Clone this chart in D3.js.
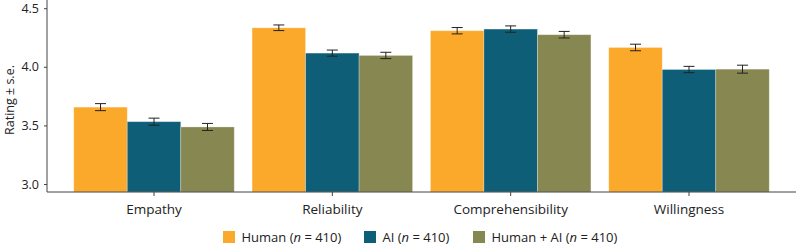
<!DOCTYPE html>
<html>
<head>
<meta charset="utf-8">
<script src="https://cdn.jsdelivr.net/npm/d3@7"></script>
<style>
  body { margin: 0; background: #fff; }
  svg text { font-family: "Open Sans", sans-serif; fill: #222; }
</style>
</head>
<body>
<script>
const categories = ["Empathy", "Reliability", "Comprehensibility", "Willingness"];
const groups = ["Human", "AI", "Human + AI"];
const humanMean = [3.656, 4.333, 4.308, 4.165];
const aiMean = [3.532, 4.117, 4.322, 3.977];
const bothMean = [3.487, 4.097, 4.274, 3.980];
const humanSe = [0.030, 0.024, 0.027, 0.028];
const aiSe = [0.030, 0.026, 0.027, 0.027];
const bothSe = [0.030, 0.027, 0.028, 0.034];
const yTicks = [3.0, 3.5, 4.0, 4.5];
const nLabel = "410";

function init() {
    var w = 796, h = 246;
    var left = 47, right = 796, top = 0, bottom = 192;
    var colors = ["#fba92b", "#0e5e78", "#878751"];
    var means = [humanMean, aiMean, bothMean];
    var ses = [humanSe, aiSe, bothSe];

    var svg = d3.select("body").append("svg")
        .attr("width", w)
        .attr("height", h);

    var x = d3.scaleBand()
        .domain(categories)
        .range([left, right])
        .paddingInner(0.1)
        .paddingOuter(0.15);

    var xs = d3.scaleBand()
        .domain(groups)
        .range([0, x.bandwidth()]);

    var y = d3.scaleLinear()
        .domain([2.932, 4.57])
        .range([bottom, top]);

    var rows = [];
    categories.forEach(function(c, i) {
        groups.forEach(function(g, j) {
            rows.push({ cat: c, grp: g, v: means[j][i], se: ses[j][i], color: colors[j] });
        });
    });

    var bars = svg.selectAll("g.bar")
        .data(rows)
        .enter()
        .append("g")
        .attr("class", "bar")
        .attr("transform", function(d) { return "translate(" + (x(d.cat) + xs(d.grp)) + ",0)"; });

    bars.append("rect")
        .attr("x", 0)
        .attr("y", function(d) { return y(d.v); })
        .attr("width", xs.bandwidth())
        .attr("height", function(d) { return bottom - y(d.v); })
        .attr("fill", function(d) { return d.color; })
        .attr("stroke", "rgba(255,255,255,0.35)")
        .attr("stroke-width", 0.8);

    var cx = xs.bandwidth() / 2, cap = 5.5;
    bars.append("path")
        .attr("d", function(d) {
            var y1 = y(d.v + d.se), y2 = y(d.v - d.se);
            return "M" + (cx - cap) + "," + y1 + "H" + (cx + cap) +
                "M" + cx + "," + y1 + "V" + y2 +
                "M" + (cx - cap) + "," + y2 + "H" + (cx + cap);
        })
        .attr("fill", "none")
        .attr("stroke", "#222")
        .attr("stroke-width", 1);

    // y axis
    var yAxis = svg.append("g")
        .attr("transform", "translate(" + left + ",0)")
        .call(d3.axisLeft(y).tickValues(yTicks).tickFormat(d3.format(".1f")).tickSize(3).tickPadding(5));
    yAxis.select(".domain").attr("d", "M0," + top + "V" + bottom).attr("stroke", "#444");
    yAxis.selectAll(".tick line").attr("stroke", "#444");
    yAxis.selectAll(".tick text").style("font-size", "12.5px").attr("fill", "#222");

    // x axis
    var xAxis = svg.append("g")
        .attr("transform", "translate(0," + bottom + ")")
        .call(d3.axisBottom(x).tickSize(4).tickPadding(8));
    xAxis.select(".domain").attr("d", "M" + left + ",0H" + right).attr("stroke", "#444");
    xAxis.selectAll(".tick line").attr("stroke", "#444");
    xAxis.selectAll(".tick text").style("font-size", "13.5px").attr("fill", "#222");

    svg.append("text")
        .attr("transform", "translate(13.5,100) rotate(-90)")
        .attr("text-anchor", "middle")
        .style("font-size", "12.5px")
        .text("Rating ± s.e.");

    // legend
    var legX = [223, 364, 473];
    var leg = svg.selectAll("g.leg")
        .data(groups)
        .enter()
        .append("g")
        .attr("class", "leg")
        .attr("transform", function(d, i) { return "translate(" + legX[i] + ",231)"; });
    leg.append("rect")
        .attr("width", 12)
        .attr("height", 12)
        .attr("fill", function(d, i) { return colors[i]; });
    var t = leg.append("text")
        .attr("x", 18.5)
        .attr("y", 11)
        .style("font-size", "13px");
    t.append("tspan").text(function(d) { return d + " ("; });
    t.append("tspan").style("font-style", "italic").text("n");
    t.append("tspan").text(" = " + nLabel + ")");
}
window.onload = init;
</script>
</body>
</html>
